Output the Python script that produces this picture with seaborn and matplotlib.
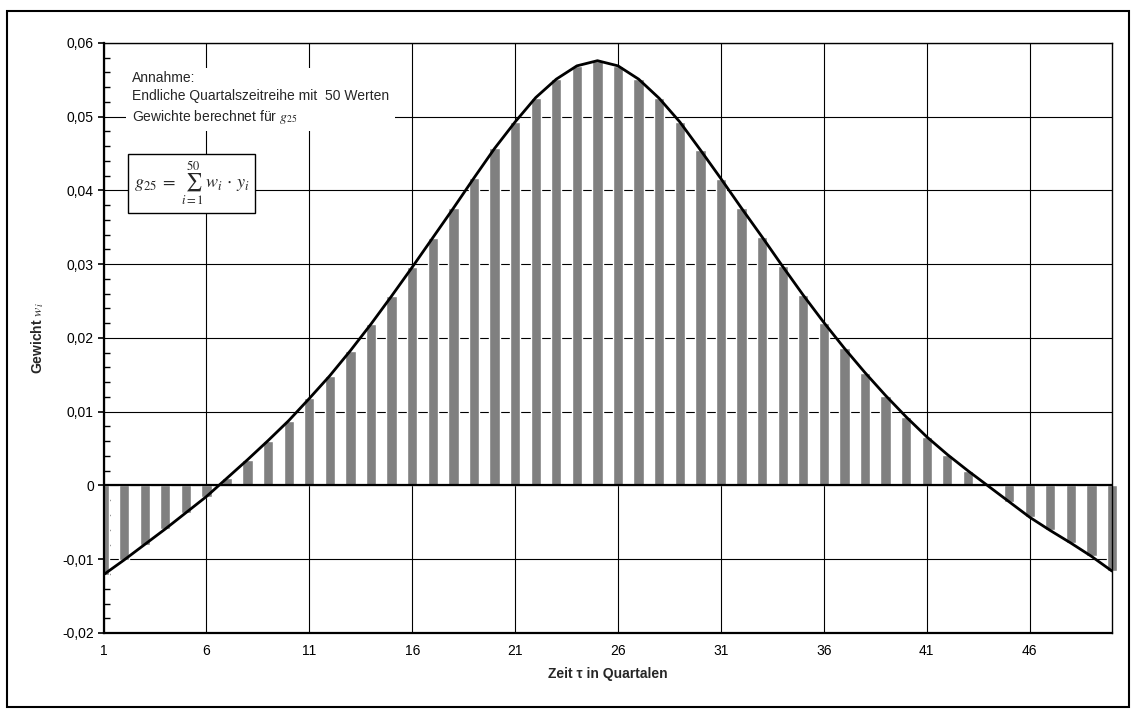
import numpy as np
import pandas as pd
import matplotlib
matplotlib.use("Agg")
import matplotlib.pyplot as plt
from matplotlib.patches import Rectangle
from matplotlib.ticker import MultipleLocator
import seaborn as sns

# Quarters 1..50 and the filter weights w_i used for g_25
quarters = list(range(1, 51))
weights = [
    -0.0121, -0.0101, -0.0080, -0.0059, -0.0037, -0.0015, 0.0010, 0.0035, 0.0061, 0.0088,
    0.0118, 0.0149, 0.0183, 0.0219, 0.0257, 0.0296, 0.0336, 0.0376, 0.0417, 0.0457,
    0.0493, 0.0526, 0.0551, 0.0569, 0.0576, 0.0569, 0.0551, 0.0525, 0.0493, 0.0455,
    0.0416, 0.0376, 0.0337, 0.0297, 0.0258, 0.0221, 0.0186, 0.0153, 0.0122, 0.0093,
    0.0066, 0.0042, 0.0020, -0.0001, -0.0022, -0.0043, -0.0061, -0.0078, -0.0096, -0.0116,
]
x_ticks = [1, 6, 11, 16, 21, 26, 31, 36, 41, 46]
y_ticks = [-0.02, -0.01, 0.0, 0.01, 0.02, 0.03, 0.04, 0.05, 0.06]
y_tick_labels = ["-0,02", "-0,01", "0", "0,01", "0,02", "0,03", "0,04", "0,05", "0,06"]

df = pd.DataFrame({"quartal": quarters, "gewicht": weights})

sns.set_theme(style="white")
plt.rcParams["font.family"] = ["Liberation Sans", "DejaVu Sans"]
plt.rcParams["mathtext.fontset"] = "stix"

fig = plt.figure(figsize=(11.33, 7.09), dpi=100)
ax = fig.add_axes([103.5 / 1133, 1 - 633 / 709, (1112 - 103.5) / 1133, (633 - 43) / 709])

sns.barplot(data=df, x="quartal", y="gewicht", native_scale=True, width=0.5,
            color="#808080", saturation=1, errorbar=None, ax=ax, zorder=2)
ax.patches[-1].set_clip_on(False)

sns.lineplot(data=df, x="quartal", y="gewicht", color="black", linewidth=2.0,
             ax=ax, zorder=4)

ax.set_xlim(1, 50)
ax.set_ylim(-0.02, 0.06)
ax.set_xticks(x_ticks)
ax.set_xticklabels([str(t) for t in x_ticks])
ax.set_yticks(y_ticks)
ax.set_yticklabels(y_tick_labels)
ax.yaxis.set_minor_locator(MultipleLocator(0.002))

ax.set_axisbelow(True)
ax.grid(True, which="major", color="black", linewidth=0.8)
ax.axhline(0, color="black", linewidth=1.6, zorder=3)

ax.tick_params(axis="x", which="both", length=0, pad=8, labelsize=10, colors="black")
ax.tick_params(axis="y", which="major", direction="out", length=4, width=1.2,
               pad=3, labelsize=10, colors="black", left=True)
ax.tick_params(axis="y", which="minor", direction="in", length=4, width=1.0,
               left=True, colors="black")

for side, spine in ax.spines.items():
    spine.set_color("black")
    spine.set_linewidth(1.0 if side in ("top", "right") else 1.6)

ax.set_xlabel("Zeit τ in Quartalen", fontsize=10, fontweight="bold")
ax.set_ylabel(r"Gewicht $w_i$", fontsize=10, fontweight="bold")
ax.xaxis.set_label_coords(0.5, -0.058)
ax.yaxis.set_label_coords(-0.057, 0.5)

# Explanatory note
ax.text(0.0283, 0.952,
        "Annahme:\nEndliche Quartalszeitreihe mit  50 Werten\nGewichte berechnet für $g_{25}$",
        transform=ax.transAxes, ha="left", va="top", fontsize=10, linespacing=1.35,
        zorder=5, bbox=dict(facecolor="white", edgecolor="none", pad=4))

# Formula box
ax.text(0.030, 0.762, r"$g_{25}\;=\;\sum_{i=1}^{50}\, w_i \,\cdot\, y_i$",
        transform=ax.transAxes, ha="left", va="center", fontsize=13, zorder=5,
        bbox=dict(facecolor="white", edgecolor="black", linewidth=1.0, pad=4))

# Chart area border
fig.patches.append(Rectangle((7 / 1133, 2 / 709), 1122 / 1133, 696 / 709,
                             transform=fig.transFigure, fill=False,
                             edgecolor="black", linewidth=1.5))

fig.savefig("out.png", dpi=100, facecolor="white")
